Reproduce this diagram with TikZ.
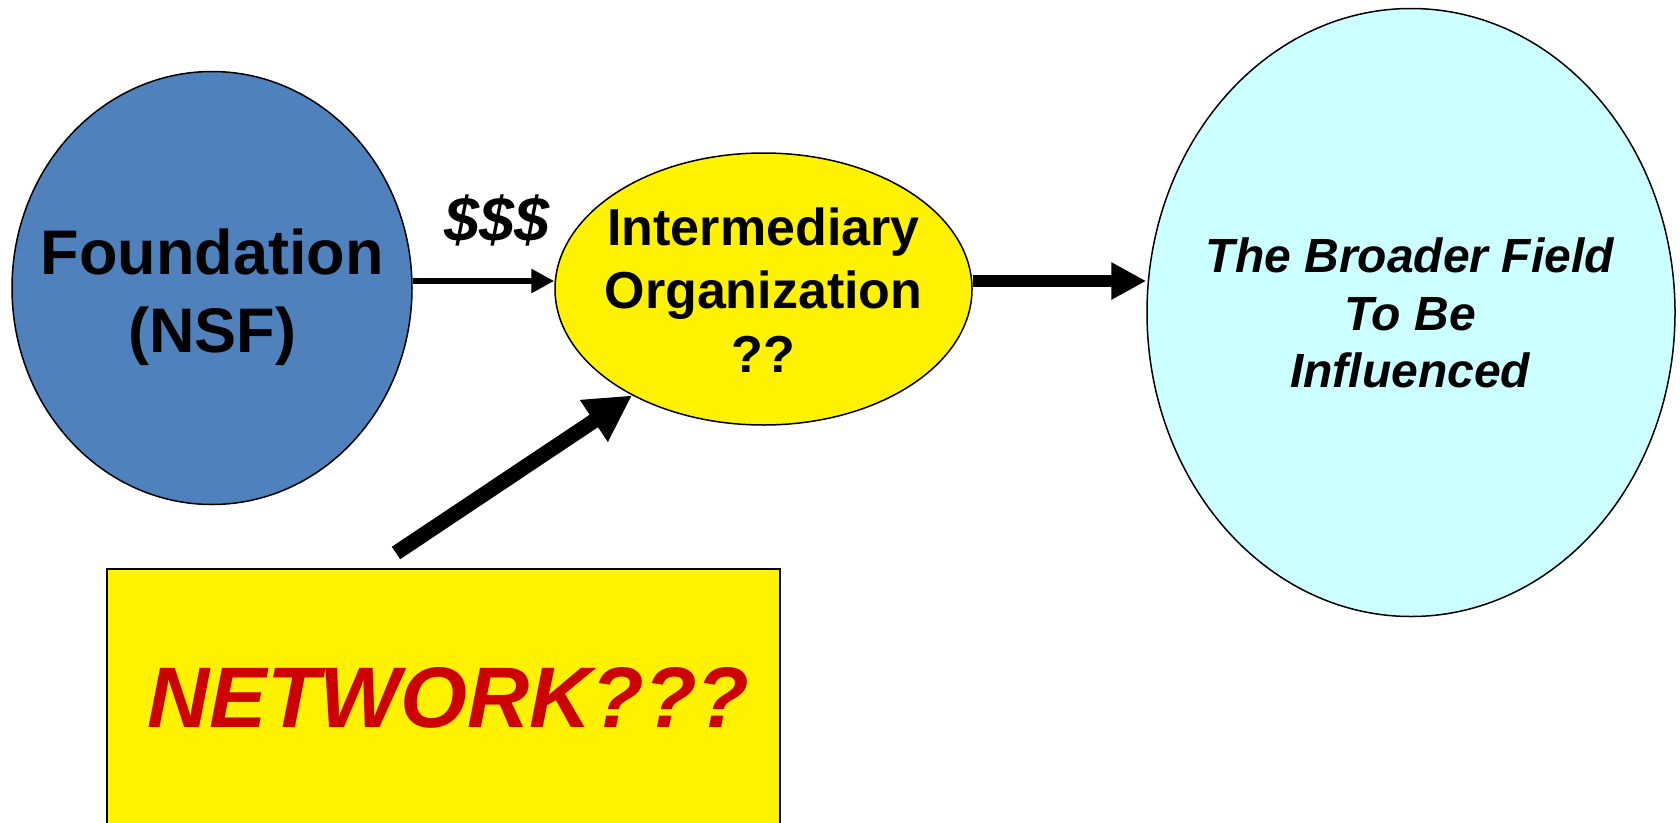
\documentclass[tikz,border=0pt]{standalone}
\usepackage{fontspec}
\setmainfont{Liberation Sans}
\usepackage{xcolor}
\usepackage{tikz}
\usetikzlibrary{shapes.geometric, arrows.meta}
\definecolor{nsfblue}{HTML}{4F81BD}
\definecolor{fieldcyan}{HTML}{CCFFFF}
\definecolor{netred}{HTML}{CC0000}
\tikzstyle{blob} = [ellipse,draw=black,line width=1.5pt,inner sep=0pt]
\tikzstyle{blobtext} = [align=center,inner sep=0pt]
\tikzstyle{arrow} = [line width=6.7pt,-{Triangle[length=23pt,width=23pt]}]
\tikzstyle{bigarrow} = [line width=11.7pt,-{Triangle[length=35pt,width=35pt]}]
\tikzstyle{fatarrow} = [line width=15pt,-{Triangle[length=46pt,width=47pt]}]

\begin{document}
\begin{tikzpicture}[x=1pt,y=-1pt]
	\useasboundingbox (0,0) rectangle (1680,822);
	
	% Ellipses:
	\node[blob, fill=nsfblue, minimum width=400pt, minimum height=433pt] (found) at (212,288) {};
	\node[blob, fill=yellow, minimum width=417pt, minimum height=272pt] (inter) at (763.5,289) {};
	\node[blob, fill=fieldcyan, minimum width=528pt, minimum height=608pt] (field) at (1411,312.5) {};
	
	% Texts inside the ellipses:
	\node[blobtext, font=\bfseries\fontsize{63}{78}\selectfont] (foundtxt) at (212,297) {Foundation\\(NSF)};
	\node[blobtext, font=\bfseries\fontsize{52}{63.5}\selectfont] (intertxt) at (763.5,290) {Intermediary\\Organization\\??};
	\node[blobtext, font=\bfseries\itshape\fontsize{48}{57.5}\selectfont] (fieldtxt) at (1410,313) {The Broader Field\\To Be\\Influenced};
	
	% Network box, runs off the bottom:
	\node[draw=black, line width=2pt, fill=yellow, minimum width=673pt, minimum height=258pt, inner sep=0pt, text=netred, font=\bfseries\itshape\fontsize{86}{100}\selectfont] (net) at (443.5,698) {\hspace*{10pt}NETWORK???};
	\coordinate (nettail) at (396,553);
	
	% Arrows:
	\draw[arrow] ([yshift=7pt]found.east) -- ([yshift=8pt]inter.west);
	\node[font=\bfseries\itshape\fontsize{63}{75}\selectfont, inner sep=0pt] (money) at (497,220) {\$\$\$};
	\draw[bigarrow] ([yshift=8pt]inter.east) -- ([yshift=31.5pt]field.west);
	\draw[fatarrow] (nettail) -- (inter.219);
\end{tikzpicture}
\end{document}
